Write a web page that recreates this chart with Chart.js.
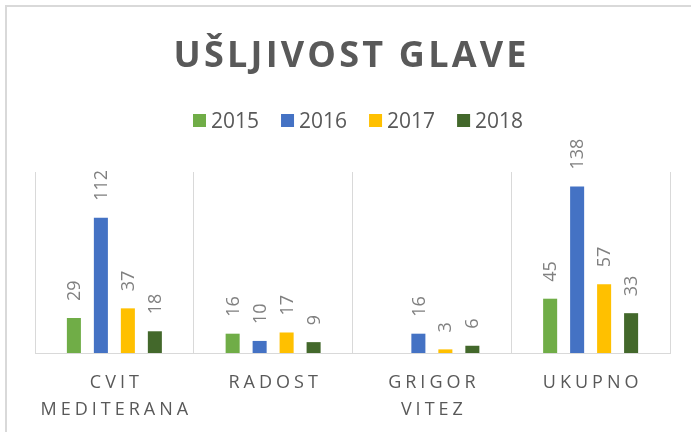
<!DOCTYPE html>
<html lang="hr">
<head>
    <meta charset="UTF-8">
    <title>Ušljivost glave</title>
    <script src="https://cdn.jsdelivr.net/npm/chart.js"></script>
    <style>
        html, body { margin: 0; padding: 0; background: #fff; }
        #wrap { width: 691px; height: 432px; position: relative; }
    </style>
</head>
<body>
    <div id="wrap">
        <canvas id="chart" width="691" height="432"></canvas>
    </div>

    <script>
        // Data
        const chartTitle = 'UŠLJIVOST GLAVE';
        const categories = [['CVIT', 'MEDITERANA'], ['RADOST'], ['GRIGOR', 'VITEZ'], ['UKUPNO']];
        const years = ['2015', '2016', '2017', '2018'];
        const values2015 = [29, 16, null, 45];
        const values2016 = [112, 10, 16, 138];
        const values2017 = [37, 17, 3, 57];
        const values2018 = [18, 9, 6, 33];
        const colors = ['#70AD47', '#4472C4', '#FFC000', '#43682B'];

        const textGrey = '#595959';
        const font = '"Open Sans", "Liberation Sans", sans-serif';

        // Border, title, legend, category labels and value labels
        const decorations = {
            id: 'decorations',
            afterDatasetsDraw(chart) {
                const ctx = chart.ctx;
                ctx.save();
                ctx.fillStyle = '#808080';
                ctx.font = '18px ' + font;
                ctx.textAlign = 'left';
                ctx.textBaseline = 'middle';
                chart.data.datasets.forEach((ds, i) => {
                    const meta = chart.getDatasetMeta(i);
                    meta.data.forEach((bar, j) => {
                        if (ds.data[j] == null) return;
                        ctx.save();
                        ctx.translate(bar.x, bar.y - 17);
                        ctx.rotate(-Math.PI / 2);
                        ctx.fillText(String(ds.data[j]), 0, 1);
                        ctx.restore();
                    });
                });
                ctx.restore();
            },
            afterDraw(chart) {
                const ctx = chart.ctx;
                ctx.save();

                // outer frame (only top and left edges are visible)
                ctx.strokeStyle = '#d9d9d9';
                ctx.lineWidth = 2;
                ctx.beginPath();
                ctx.moveTo(6, 432);
                ctx.lineTo(6, 6);
                ctx.lineTo(691, 6);
                ctx.stroke();

                // title with letter spacing
                ctx.fillStyle = textGrey;
                ctx.font = 'bold 36px ' + font;
                ctx.textAlign = 'left';
                ctx.textBaseline = 'alphabetic';
                ctx.letterSpacing = '0px';
                const rawW = ctx.measureText(chartTitle).width;
                const sp = (353 - rawW) / (chartTitle.length - 1);
                ctx.letterSpacing = sp + 'px';
                ctx.fillText(chartTitle, 350 - 353 / 2, 67);

                // legend
                ctx.letterSpacing = '0px';
                ctx.font = '21px ' + font;
                ctx.textBaseline = 'alphabetic';
                let lx = 193;
                years.forEach((y, i) => {
                    ctx.fillStyle = colors[i];
                    ctx.fillRect(lx, 114, 13, 13);
                    ctx.fillStyle = textGrey;
                    ctx.fillText(y, lx + 18, 128);
                    lx += 18 + ctx.measureText(y).width + 22;
                });

                // category labels
                const xScale = chart.scales.x;
                ctx.font = '18px ' + font;
                ctx.letterSpacing = '4px';
                ctx.textAlign = 'center';
                categories.forEach((lines, i) => {
                    const cx = xScale.getPixelForTick(i) + 2;
                    lines.forEach((line, k) => {
                        ctx.fillText(line, cx, 388 + k * 27);
                    });
                });
                ctx.restore();
            }
        };

        const yearValues = [values2015, values2016, values2017, values2018];

        new Chart(document.getElementById('chart'), {
            type: 'bar',
            data: {
                labels: categories.map(c => c.join(' ')),
                datasets: years.map((y, i) => ({
                    label: y,
                    data: yearValues[i],
                    backgroundColor: colors[i],
                    categoryPercentage: 0.68,
                    barPercentage: 0.52
                }))
            },
            options: {
                responsive: false,
                animation: false,
                layout: { padding: { left: 35, right: 21, top: 172, bottom: 79 } },
                plugins: {
                    legend: { display: false },
                    title: { display: false },
                    tooltip: { enabled: false }
                },
                scales: {
                    x: {
                        grid: { display: true, color: '#d9d9d9', lineWidth: 1, drawTicks: false, offset: true },
                        border: { display: true, color: '#d9d9d9', width: 1 },
                        ticks: { display: false }
                    },
                    y: {
                        display: false,
                        min: 0,
                        max: 150
                    }
                }
            },
            plugins: [decorations]
        });
    </script>
</body>
</html>
